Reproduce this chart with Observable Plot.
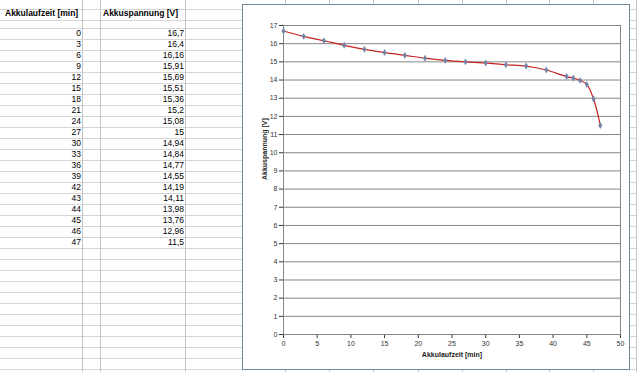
<!DOCTYPE html>
<html><head><meta charset="utf-8">
<script src="https://cdn.jsdelivr.net/npm/d3@7"></script>
<script src="https://cdn.jsdelivr.net/npm/@observablehq/plot@0.6"></script>
<style>
body{margin:0;background:#fff;}
#wrap{position:relative;width:637px;height:372px;overflow:hidden;font-family:"Liberation Sans",Arial,sans-serif;}
#sheet{position:absolute;left:0;top:0;width:637px;height:372px;}
.hline{position:absolute;left:0;width:637px;height:1px;background:#d6d6d6;}
.vline{position:absolute;top:0;height:372px;width:1px;background:#c4c4c4;}
.cell{position:absolute;font-size:8.5px;line-height:11px;height:11px;white-space:nowrap;color:#000;}
.hdr{font-weight:bold;}
#frame{position:absolute;left:242px;top:4px;width:386px;height:364px;border:1px solid #6e8796;background:#fff;}
#chart{position:absolute;left:0;top:0;}
</style></head><body>
<div id="wrap"><div id="sheet"></div><div id="frame"></div><div id="chart"></div></div>
<script>
const timeMin = [0,3,6,9,12,15,18,21,24,27,30,33,36,39,42,43,44,45,46,47];
const voltage = [16.7,16.4,16.16,15.91,15.69,15.51,15.36,15.2,15.08,15,14.94,14.84,14.77,14.55,14.19,14.11,13.98,13.76,12.96,11.5];
const headers = ["Akkulaufzeit [min]","Akkuspannung [V]"];
const xTitle = "Akkulaufzeit [min]";
const yTitle = "Akkuspannung [V]";
const xTicks = [0,5,10,15,20,25,30,35,40,45,50];
const yTicks = [0,1,2,3,4,5,6,7,8,9,10,11,12,13,14,15,16,17];

// spreadsheet background
const sheet = document.getElementById("sheet");
const rowLines = [9,20];
for (let y = 28; y < 372; y += 11) rowLines.push(y);
rowLines.forEach(y => { const d = document.createElement("div"); d.className = "hline"; d.style.top = y + "px"; sheet.appendChild(d); });
[82,100,185,285,329,373,418,462,506,549,593,636].forEach(x => { const d = document.createElement("div"); d.className = "vline"; d.style.left = x + "px"; sheet.appendChild(d); });
function cell(text, left, right, top, cls) {
  const d = document.createElement("div");
  d.className = "cell" + (cls ? " " + cls : "");
  d.textContent = text;
  d.style.top = top + "px";
  if (left != null) d.style.left = left + "px";
  if (right != null) { d.style.right = (637 - right) + "px"; d.style.textAlign = "right"; }
  sheet.appendChild(d);
}
cell(headers[0], 5, null, 8, "hdr");
cell(headers[1], 103, null, 8, "hdr");
const fmt = v => String(v).replace(".", ",");
timeMin.forEach((t, i) => {
  cell(fmt(t), null, 81, 28 + 11 * i);
  cell(fmt(voltage[i]), null, 184, 28 + 11 * i);
});

// chart
const data = timeMin.map((t, i) => ({t, v: voltage[i]}));
const plot = Plot.plot({
  width: 637, height: 372,
  marginLeft: 283, marginRight: 17, marginTop: 25, marginBottom: 38,
  style: {background: "transparent", fontFamily: "'Liberation Sans', Arial, sans-serif", fontSize: "7px", color: "#333", overflow: "visible"},
  x: {domain: [0, 50], ticks: xTicks, tickSize: 4, tickPadding: 3, label: null},
  y: {domain: [0, 17], ticks: yTicks, tickSize: 4, tickPadding: 2, label: null},
  marks: [
    Plot.ruleY(yTicks, {stroke: "#858585", strokeWidth: 1}),
    Plot.frame({stroke: "#858585"}),
    Plot.line(data, {x: "t", y: "v", curve: "catmull-rom", stroke: "#c42222", strokeWidth: 1.2}),
    Plot.dot(data, {x: "t", y: "v", symbol: "diamond", r: 2.1, fill: "#7383a6", stroke: "none"}),
    Plot.text([xTitle], {text: d => d, frameAnchor: "bottom", dy: 22, fontSize: 7, fontWeight: "bold", fill: "#222"}),
    Plot.text([yTitle], {text: d => d, frameAnchor: "left", dx: -19, rotate: -90, fontSize: 7, fontWeight: "bold", fill: "#222"})
  ]
});
document.getElementById("chart").appendChild(plot);
</script>
</body></html>
